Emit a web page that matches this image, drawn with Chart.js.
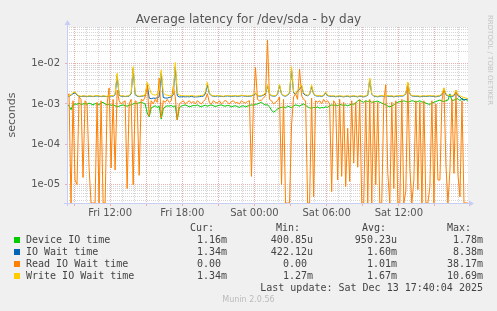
<!DOCTYPE html>
<html>
<head>
<meta charset="utf-8">
<script src="https://cdn.jsdelivr.net/npm/chart.js@4.4.1/dist/chart.umd.min.js"></script>
<style>
body { margin: 0; width: 497px; height: 311px; overflow: hidden; position: relative; background: #f0f0f0; font-family: "DejaVu Sans", sans-serif; }
#graph { position: absolute; left: 0; top: 0; }
.txt { position: absolute; white-space: pre; line-height: 1; }
#title { left: 0; width: 497px; top: 13px; text-align: center; font-size: 12px; color: #555; }
#ylabel { left: 6px; top: 203px; width: 176px; text-align: center; font-size: 11px; color: #555; transform-origin: 0 0; transform: rotate(-90deg); }
#side { left: 493px; top: 15px; font-size: 7px; color: #c4c4c4; transform-origin: 0 0; transform: rotate(90deg); }
#footer { left: 0; width: 497px; top: 296px; text-align: center; font-size: 8px; color: #bbb; }
.leg { position: absolute; white-space: pre; line-height: 1; font-family: "DejaVu Sans Mono", monospace; font-size: 10px; color: #444; }
.sw { position: absolute; width: 6px; height: 6px; }
</style>
</head>
<body>
<canvas id="graph" width="497" height="311"></canvas>
<div id="title" class="txt">Average latency for /dev/sda - by day</div>
<div id="ylabel" class="txt">seconds</div>
<div id="side" class="txt">RRDTOOL / TOBI OETIKER</div>
<div id="footer" class="txt">Munin 2.0.56</div>
<div id="legend"></div>
<script>
// time axis: hours since Fri 00:00, one sample every 10 minutes
const startHour = 8 + 25 / 60;
const stepMinutes = 10;

// values in milliseconds
const deviceIO = [
  1.0, 0.9, 0.72, 0.95, 1.0, 0.98, 1.05, 0.97, 1.0, 1.02,
  0.98, 1.05, 1.0, 0.95, 1.02, 1.0, 0.97, 1.05, 1.1, 1.0,
  0.95, 1.0, 0.92, 0.97, 0.9, 0.85, 0.88, 0.92, 0.95, 0.9,
  0.88, 0.93, 0.95, 1.0, 1.05, 1.0, 1.08, 1.1, 1.05, 1.0,
  0.6, 0.48, 0.8, 0.85, 0.9, 0.82, 0.88, 0.42, 0.75, 0.85,
  0.9, 0.88, 0.92, 0.85, 0.9, 0.4, 0.8, 0.88, 0.92, 0.95,
  0.9, 0.85, 0.88, 0.92, 0.9, 0.95, 0.88, 0.85, 0.9, 0.93,
  0.88, 0.92, 0.95, 0.9, 0.86, 0.9, 0.93, 0.95, 0.9, 0.88,
  0.92, 0.9, 0.85, 0.88, 0.9, 0.86, 0.82, 0.88, 0.9, 0.85,
  0.88, 0.92, 0.95, 0.93, 0.98, 1.0, 1.05, 1.1, 1.0, 0.95,
  0.95, 0.85, 0.7, 0.62, 0.68, 0.75, 0.8, 0.82, 0.85, 0.8,
  0.88, 0.85, 0.8, 0.9, 0.95, 0.92, 0.88, 0.95, 1.0, 0.92,
  0.85, 0.8, 0.78, 0.82, 0.8, 0.85, 0.78, 0.82, 0.8, 0.85,
  0.82, 0.9, 0.95, 0.92, 0.95, 0.9, 0.98, 0.95, 0.92, 0.95,
  0.9, 0.95, 1.0, 0.98, 1.05, 1.2, 1.25, 1.15, 1.1, 1.2,
  1.15, 1.2, 1.1, 1.12, 1.15, 1.18, 1.1, 1.05, 1.0, 0.95,
  0.88, 0.85, 0.9, 0.95, 1.05, 1.1, 1.15, 1.12, 1.2, 1.15,
  1.1, 1.15, 1.2, 1.18, 1.1, 1.15, 1.2, 1.12, 1.1, 1.05,
  1.0, 0.98, 1.05, 1.1, 1.15, 1.2, 1.25, 1.18, 1.15, 1.2,
  1.25, 1.78, 1.2, 1.25, 1.3, 1.35, 1.2, 1.4, 1.25, 1.3,
  1.16
];
const ioWait = [
  1.52, 1.56, 1.65, 1.8, 1.9, 1.65, 1.56, 1.52, 1.56, 1.55,
  1.52, 1.56, 1.55, 1.52, 1.56, 1.58, 1.55, 1.52, 1.56, 1.54,
  1.52, 1.56, 1.58, 1.55, 1.7, 5.0, 1.65, 1.55, 1.56, 1.52,
  1.55, 1.56, 1.8, 7.5, 1.7, 1.56, 1.52, 1.55, 1.58, 1.6,
  3.0, 1.4, 1.35, 1.4, 1.38, 1.42, 1.5, 6.0, 1.45, 1.4,
  1.4, 1.45, 1.5, 1.7, 8.38, 1.6, 1.5, 1.5, 1.52, 1.5,
  1.52, 1.5, 1.55, 1.5, 1.5, 1.5, 1.52, 1.55, 1.55, 1.8,
  3.0, 1.8, 1.6, 1.56, 1.54, 1.58, 1.56, 1.54, 1.52, 1.56,
  1.58, 1.56, 1.54, 1.56, 1.58, 1.54, 1.56, 1.6, 1.58, 1.56,
  1.54, 1.56, 1.58, 1.65, 1.8, 1.6, 1.56, 1.58, 1.65, 1.8,
  2.8, 1.75, 1.6, 1.56, 1.58, 1.75, 2.9, 1.75, 1.6, 1.56,
  1.65, 1.9, 7.0, 1.9, 1.75, 2.1, 2.3, 2.8, 1.8, 1.65,
  1.6, 1.75, 2.7, 1.75, 1.6, 1.56, 1.58, 1.54, 1.6, 1.9,
  1.6, 1.56, 1.54, 1.56, 1.5, 1.54, 1.56, 1.53, 1.5, 1.54,
  1.56, 1.5, 1.54, 1.56, 1.53, 1.5, 1.56, 1.54, 1.5, 1.56,
  1.65, 4.0, 1.75, 1.56, 1.54, 1.5, 1.56, 1.58, 1.54, 1.6,
  1.56, 1.54, 1.56, 1.5, 1.54, 1.56, 1.58, 1.56, 1.6, 1.8,
  3.2, 1.75, 1.58, 1.56, 1.54, 1.56, 1.5, 1.54, 1.56, 1.53,
  1.56, 1.58, 1.54, 1.56, 1.5, 1.56, 1.58, 1.7, 2.3, 1.7,
  1.58, 1.56, 1.54, 1.6, 2.0, 1.6, 1.5, 1.3, 1.25, 1.3,
  1.34
];
// 0 = no read wait in that interval
const readWait = [
  1.5, 1.8, 0, 1.2, 0.013, 0.010, 1.5, 1.3, 0.015, 1.2,
  1.0, 0.027, 0, 0, 0, 1.1, 0, 1.2, 0, 0,
  1.0, 2.5, 0.026, 1.3, 0.023, 2.2, 1.2, 1.0, 1.1, 1.2,
  0.008, 1.0, 1.3, 0.0098, 1.2, 1.1, 0.017, 1.3, 1.2, 1.5,
  3.0, 0.5, 1.2, 1.0, 1.3, 1.1, 4.4, 0.45, 1.2, 1.1,
  1.3, 1.1, 1.2, 2.7, 1.5, 0.4, 1.0, 1.1, 1.2, 1.0,
  1.1, 1.2, 1.05, 1.15, 1.0, 1.2, 1.1, 1.0, 1.15, 1.3,
  1.8, 1.1, 1.0, 1.2, 1.1, 1.05, 1.2, 1.0, 1.1, 1.25,
  1.1, 1.0, 1.15, 1.2, 1.05, 1.1, 1.0, 1.2, 1.1, 1.05,
  1.15, 1.2, 0.016, 1.1, 8.0, 1.3, 1.2, 1.25, 1.4, 1.6,
  38.17, 1.3, 1.2, 1.0, 1.1, 1.2, 1.5, 0.010, 1.3, 0,
  0, 0, 0.3, 1.5, 1.8, 1.3, 7.4, 1.6, 1.3, 1.2,
  0, 0, 1.4, 0.005, 1.2, 1.1, 1.2, 1.0, 1.3, 1.1,
  1.2, 1.0, 0.0067, 1.2, 1.0, 0.013, 1.3, 0.016, 1.1, 0.009,
  0.25, 0.012, 1.2, 0.034, 1.1, 0.027, 1.3, 0, 0, 1.2,
  0, 1.3, 0, 1.2, 0.0098, 1.1, 0, 0, 1.2, 3.0,
  0.019, 0, 1.1, 0.008, 1.2, 0, 0, 1.3, 0, 0.007,
  3.3, 0.025, 0, 0.013, 1.2, 0.0075, 1.1, 0, 1.2, 0,
  0, 0.009, 1.2, 0, 1.0, 0.013, 0.013, 1.2, 2.5, 0.03,
  0, 0.023, 1.3, 0.019, 2.2, 0.017, 0.005, 1.2, 0, 0,
  0
];
const writeWait = [
  1.55, 1.6, 1.7, 1.9, 2.0, 1.7, 1.6, 1.55, 1.6, 1.58,
  1.55, 1.6, 1.58, 1.55, 1.6, 1.62, 1.58, 1.55, 1.6, 1.57,
  1.55, 1.6, 1.62, 1.58, 1.8, 5.8, 1.7, 1.58, 1.6, 1.55,
  1.58, 1.6, 1.9, 8.4, 1.8, 1.6, 1.55, 1.58, 1.62, 1.7,
  3.5, 2.6, 1.8, 1.7, 1.65, 1.75, 2.2, 7.0, 1.9, 1.7,
  1.65, 1.6, 1.62, 1.8, 10.69, 1.9, 1.65, 1.6, 1.62, 1.58,
  1.6, 1.58, 1.62, 1.6, 1.55, 1.58, 1.6, 1.62, 1.65, 2.0,
  3.5, 1.9, 1.65, 1.6, 1.58, 1.62, 1.6, 1.58, 1.55, 1.6,
  1.62, 1.6, 1.58, 1.6, 1.62, 1.58, 1.6, 1.65, 1.62, 1.6,
  1.58, 1.6, 1.62, 1.7, 1.9, 1.65, 1.6, 1.62, 1.7, 1.9,
  3.0, 1.8, 1.65, 1.6, 1.62, 1.8, 3.1, 1.8, 1.65, 1.6,
  1.7, 2.0, 8.4, 2.0, 1.8, 2.2, 2.5, 3.0, 1.9, 1.7,
  1.65, 1.8, 3.0, 1.8, 1.65, 1.6, 1.62, 1.58, 1.65, 2.0,
  1.65, 1.6, 1.58, 1.6, 1.55, 1.58, 1.6, 1.57, 1.55, 1.58,
  1.6, 1.55, 1.58, 1.6, 1.57, 1.55, 1.6, 1.58, 1.55, 1.6,
  1.7, 4.4, 1.8, 1.6, 1.58, 1.55, 1.6, 1.62, 1.58, 1.65,
  1.6, 1.58, 1.6, 1.55, 1.58, 1.6, 1.62, 1.6, 1.65, 1.9,
  3.5, 1.8, 1.62, 1.6, 1.58, 1.6, 1.55, 1.58, 1.6, 1.57,
  1.6, 1.62, 1.58, 1.6, 1.55, 1.6, 1.62, 1.8, 2.5, 1.8,
  1.62, 1.6, 1.58, 1.7, 2.2, 1.7, 1.6, 1.5, 1.45, 1.4,
  1.34
];

const xTickHours = [12, 18, 24, 30, 36];
const xTickLabels = ['Fri 12:00', 'Fri 18:00', 'Sat 00:00', 'Sat 06:00', 'Sat 12:00'];
const yTickValues = [1e-5, 1e-4, 1e-3, 1e-2];
const yTickLabels = ['1e-05', '1e-04', '1e-03', '1e-02'];
const yMin = 3.5e-6, yMax = 8.1e-2;

const legendNames = ['Device IO time', 'IO Wait time', 'Read IO Wait time', 'Write IO Wait time'];
const legendColors = ['#00cc00', '#0066b3', '#ff8000', '#ffcc00'];
const curVals = ['1.16m', '1.34m', '0.00 ', '1.34m'];
const minVals = ['400.85u', '422.12u', '0.00 ', '1.27m'];
const avgVals = ['950.23u', '1.60m', '1.01m', '1.67m'];
const maxVals = ['1.78m', '8.38m', '38.17m', '10.69m'];
const lastUpdate = 'Last update: Sat Dec 13 17:40:04 2025';

const RED = '#e8b2b2';
const GRAY = '#d4d4d4';

function toPoints(arr) {
  return arr.map((v, i) => ({ x: startHour + i * stepMinutes / 60, y: v === 0 ? yMin : v / 1000 }));
}
function isDecade(v) {
  return yTickValues.some(d => Math.abs(v / d - 1) < 1e-6) || Math.abs(v / 1e-6 - 1) < 1e-6;
}

const frame = {
  id: 'frame',
  beforeDraw(chart) {
    const a = chart.chartArea, c = chart.ctx;
    c.save();
    c.fillStyle = '#ffffff';
    c.fillRect(a.left, a.top, a.right - a.left, a.bottom - a.top);
    c.restore();
  },
  afterDraw(chart) {
    const a = chart.chartArea, c = chart.ctx;
    c.save();
    c.strokeStyle = '#c8cdf5';
    c.fillStyle = '#c8cdf5';
    c.lineWidth = 1;
    c.beginPath();
    c.moveTo(a.left - 3, a.bottom + 0.5); c.lineTo(a.right + 2, a.bottom + 0.5);
    c.moveTo(a.left + 0.5, a.bottom + 3); c.lineTo(a.left + 0.5, a.top - 3);
    c.stroke();
    c.beginPath();
    c.moveTo(a.right + 6, a.bottom + 0.5); c.lineTo(a.right + 1, a.bottom - 2.5); c.lineTo(a.right + 1, a.bottom + 3.5);
    c.closePath(); c.fill();
    c.beginPath();
    c.moveTo(a.left + 0.5, a.top - 7); c.lineTo(a.left - 2.5, a.top - 2); c.lineTo(a.left + 3.5, a.top - 2);
    c.closePath(); c.fill();
    c.restore();
  }
};

const tickFont = { family: 'DejaVu Sans', size: 10 };

new Chart(document.getElementById('graph'), {
  type: 'line',
  data: {
    datasets: [
      { label: 'Write IO Wait time', data: toPoints(writeWait), borderColor: legendColors[3], order: 1 },
      { label: 'Read IO Wait time', data: toPoints(readWait), borderColor: legendColors[2], order: 2 },
      { label: 'IO Wait time', data: toPoints(ioWait), borderColor: legendColors[1], order: 3 },
      { label: 'Device IO time', data: toPoints(deviceIO), borderColor: legendColors[0], order: 4 }
    ]
  },
  options: {
    responsive: false,
    animation: false,
    devicePixelRatio: 1,
    parsing: false,
    normalized: true,
    elements: { point: { radius: 0 }, line: { borderWidth: 1, tension: 0, fill: false } },
    layout: { padding: { left: 0, right: 29, top: 27, bottom: 88 } },
    plugins: { legend: { display: false }, tooltip: { enabled: false }, title: { display: false } },
    scales: {
      x: {
        type: 'linear',
        min: startHour,
        max: startHour + (deviceIO.length - 1) * stepMinutes / 60,
        afterBuildTicks: s => {
          const t = [];
          for (let h = Math.ceil(s.min); h <= s.max; h++) t.push({ value: h });
          s.ticks = t;
        },
        afterFit: s => { s.height = 20; },
        ticks: {
          autoSkip: false, maxRotation: 0, padding: 1, color: '#555', font: tickFont,
          callback: v => { const k = xTickHours.indexOf(v); return k < 0 ? '' : xTickLabels[k]; }
        },
        grid: {
          color: c => (c.tick && c.tick.value % 3 === 0) ? RED : GRAY,
          tickColor: c => (c.tick && c.tick.value % 3 === 0) ? RED : 'rgba(0,0,0,0)',
          tickLength: 3, lineWidth: 1
        },
        border: { display: false, dash: [1, 1] }
      },
      y: {
        type: 'logarithmic',
        min: yMin,
        max: yMax,
        afterBuildTicks: s => {
          const t = [];
          for (let e = -6; e <= -1; e++) {
            for (let m = 1; m <= 9; m++) {
              const v = m * Math.pow(10, e);
              if (v >= s.min && v <= s.max) t.push({ value: v });
            }
          }
          s.ticks = t;
        },
        afterFit: s => { s.width = 67; },
        ticks: {
          autoSkip: false, padding: 5, color: '#555', font: tickFont,
          callback: v => {
            const k = yTickValues.findIndex(d => Math.abs(v / d - 1) < 1e-6);
            return k < 0 ? '' : yTickLabels[k];
          }
        },
        grid: {
          color: c => (c.tick && isDecade(c.tick.value)) ? RED : GRAY,
          tickColor: c => (c.tick && isDecade(c.tick.value)) ? RED : 'rgba(0,0,0,0)',
          tickLength: 2, lineWidth: 1
        },
        border: { display: false, dash: [1, 1] }
      }
    }
  },
  plugins: [frame]
});

// legend block under the graph
const leg = document.getElementById('legend');
function cell(text, top, left, right) {
  const d = document.createElement('div');
  d.className = 'leg';
  d.textContent = text;
  d.style.top = top + 'px';
  if (left !== null) d.style.left = left + 'px';
  if (right !== null) d.style.right = right + 'px';
  leg.appendChild(d);
}
const rowTop = 222.8, rowStep = 12;
cell('Cur:', rowTop, 190, null);
cell('Min:', rowTop, 276, null);
cell('Avg:', rowTop, 362, null);
cell('Max:', rowTop, 447, null);
legendNames.forEach((name, i) => {
  const top = rowTop + rowStep * (i + 1);
  const sw = document.createElement('div');
  sw.className = 'sw';
  sw.style.left = '14px';
  sw.style.top = (top + 2) + 'px';
  sw.style.background = legendColors[i];
  leg.appendChild(sw);
  cell(name, top, 26, null);
  cell(curVals[i], top, null, 497 - 227);
  cell(minVals[i], top, null, 497 - 313);
  cell(avgVals[i], top, null, 497 - 397);
  cell(maxVals[i], top, null, 497 - 483);
});
cell(lastUpdate, rowTop + rowStep * 5, null, 497 - 483);
</script>
</body>
</html>
